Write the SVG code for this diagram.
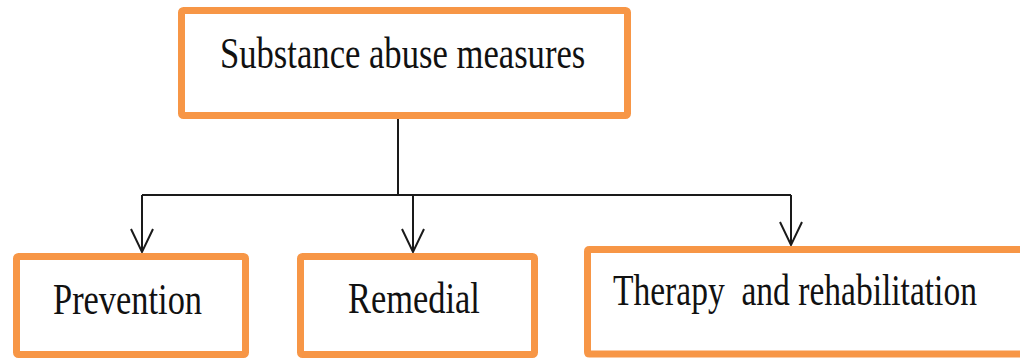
<svg xmlns="http://www.w3.org/2000/svg" width="1020" height="358" viewBox="0 0 1020 358">
  <style>
    .box { fill: #ffffff; stroke: #F79646; stroke-width: 7; stroke-linejoin: round; }
    .lbl { font-family: "Liberation Serif", "Times New Roman", serif; font-size: 44px; fill: #111111; }
    .conn { fill: none; stroke: #1a1a1a; stroke-width: 2; }
    .head { fill: none; stroke: #1a1a1a; stroke-width: 2; stroke-linejoin: miter; }
  </style>
  <defs>
    <marker id="arrow" markerUnits="userSpaceOnUse" viewBox="-26 -13 28 26" refX="0" refY="0" markerWidth="28" markerHeight="26" orient="auto" overflow="visible">
      <path class="head" d="M-23,-11 L0,0 L-23,11"/>
    </marker>
  </defs>
  <rect width="1020" height="358" fill="#ffffff"/>

  <g id="connectors">
    <path class="conn" d="M398,119 L398,195"/>
    <path class="conn" d="M142,195 L791,195"/>
    <path class="conn" d="M142,195 L142,252" marker-end="url(#arrow)"/>
    <path class="conn" d="M413,195 L413,252" marker-end="url(#arrow)"/>
    <path class="conn" d="M791,195 L791,245" marker-end="url(#arrow)"/>
  </g>

  <g id="node-root">
    <rect class="box" x="181.5" y="10.5" width="446" height="105" rx="2"/>
    <text class="lbl" transform="translate(220,68) scale(0.787,1)" font-size="45">Substance abuse measures</text>
  </g>

  <g id="node-prevention">
    <rect class="box" x="16.5" y="256.5" width="229" height="98" rx="2"/>
    <text class="lbl" transform="translate(53,314) scale(0.782,1)">Prevention</text>
  </g>

  <g id="node-remedial">
    <rect class="box" x="300.5" y="256.5" width="234" height="98" rx="2"/>
    <text class="lbl" transform="translate(348,313) scale(0.782,1)">Remedial</text>
  </g>

  <g id="node-therapy">
    <rect x="587.5" y="249.5" width="432.5" height="104.5" fill="#ffffff"/>
    <path class="box" d="M1020,249.5 L589.5,249.5 Q587.5,249.5 587.5,251.5 L587.5,352 Q587.5,354 589.5,354 L1020,354" style="fill:none"/>
    <text class="lbl" transform="translate(613,305) scale(0.762,1)" xml:space="preserve" style="white-space:pre">Therapy  and rehabilitation</text>
  </g>
</svg>
